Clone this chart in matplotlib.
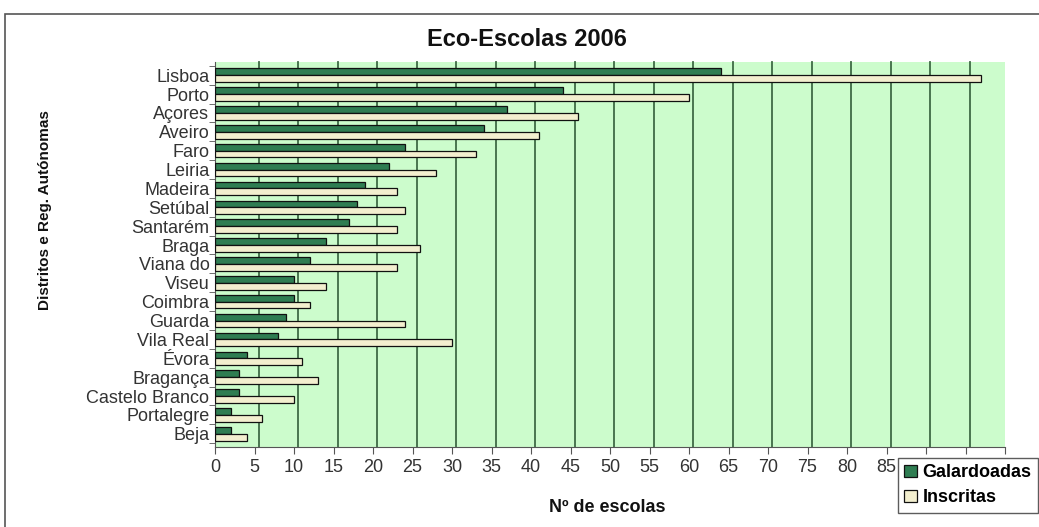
import matplotlib
matplotlib.use("Agg")
import matplotlib.pyplot as plt
import matplotlib.transforms as mtransforms
import numpy as np

categories = ["Lisboa", "Porto", "Açores", "Aveiro", "Faro", "Leiria", "Madeira",
              "Setúbal", "Santarém", "Braga", "Viana do", "Viseu", "Coimbra",
              "Guarda", "Vila Real", "Évora", "Bragança", "Castelo Branco",
              "Portalegre", "Beja"]
galardoadas = [64, 44, 37, 34, 24, 22, 19, 18, 17, 14, 12, 10, 10, 9, 8, 4, 3, 3, 2, 2]
inscritas = [97, 60, 46, 41, 33, 28, 23, 24, 23, 26, 23, 14, 12, 24, 30, 11, 13, 10, 6, 4]
xticks = list(range(0, 101, 5))
xticklabels = [str(v) for v in range(0, 86, 5)] + ["", "", ""]

plt.rcParams['font.family'] = ['Liberation Sans', 'DejaVu Sans']

fig = plt.figure(figsize=(10.39, 5.27), dpi=100)
W, H = 1039, 527

# outer frame
frame = plt.Rectangle((5 / W, -0.05), 1.1, 0.973 + 0.05, transform=fig.transFigure,
                      fill=False, edgecolor="#555555", linewidth=1.2, zorder=0)
fig.patches.append(frame)

ax = fig.add_axes([215 / W, 1 - 447 / H, (1005 - 215) / W, (447 - 62) / H])
ax.set_facecolor("#ccfccc")

y = np.arange(len(categories))
h = 0.36
ax.barh(y - h / 2, galardoadas, height=h, color="#2f7d52", edgecolor="#111111",
        linewidth=0.9, label="Galardoadas", zorder=3)
ax.barh(y + h / 2, inscritas, height=h, color="#f3efcf", edgecolor="#111111",
        linewidth=0.9, label="Inscritas", zorder=3)

ax.set_xlim(0, 100)
ax.set_ylim(len(categories) - 0.3, -0.7)
ax.set_xticks(xticks)
ax.set_xticklabels(xticklabels)
ax.set_yticks(y)
ax.set_yticklabels(categories)
ax.set_yticks(np.arange(len(categories) + 1) - 0.5, minor=True)
ax.tick_params(axis="y", which="major", length=0, pad=4, labelsize=13, labelcolor="#333333")
ax.tick_params(axis="y", which="minor", length=4, color="#555555")
ax.tick_params(axis="x", length=5, color="#555555", labelsize=13, labelcolor="#333333", pad=4)

# back-wall grid lines, shifted slightly right like the 3D wall of the original
shift = mtransforms.ScaledTranslation(4 / 100, 0, fig.dpi_scale_trans)
gtrans = ax.get_xaxis_transform() + shift
for v in xticks[1:-1]:
    ax.plot([v, v], [0, 1], color="#3f6a45", linewidth=1.3, zorder=1,
            transform=gtrans, clip_on=False)

for s in ["top", "right"]:
    ax.spines[s].set_visible(False)
ax.spines["left"].set_color("#555555")
ax.spines["bottom"].set_color("#555555")

fig.text(527 / W, 1 - 40 / H, "Eco-Escolas 2006", ha="center", va="center",
         fontsize=17, fontweight="bold", color="#111111")
fig.text(607 / W, 1 - 508 / H, "Nº de escolas", ha="center", va="center",
         fontsize=13, fontweight="bold", color="#111111")
fig.text(45 / W, 1 - 210 / H, "Distritos e Reg. Autónomas", ha="center", va="center",
         rotation=90, fontsize=11, fontweight="bold", color="#111111")

leg = fig.legend(loc="upper left", bbox_to_anchor=(898 / W, 1 - 458 / H),
                 frameon=True, fancybox=False, edgecolor="#333333",
                 prop={"weight": "bold", "size": 13}, handlelength=0.7,
                 handleheight=0.7, handletextpad=0.3, borderpad=0.35,
                 labelspacing=0.45, borderaxespad=0)
leg.get_frame().set_linewidth(1.0)

fig.savefig("out.png", dpi=100)
